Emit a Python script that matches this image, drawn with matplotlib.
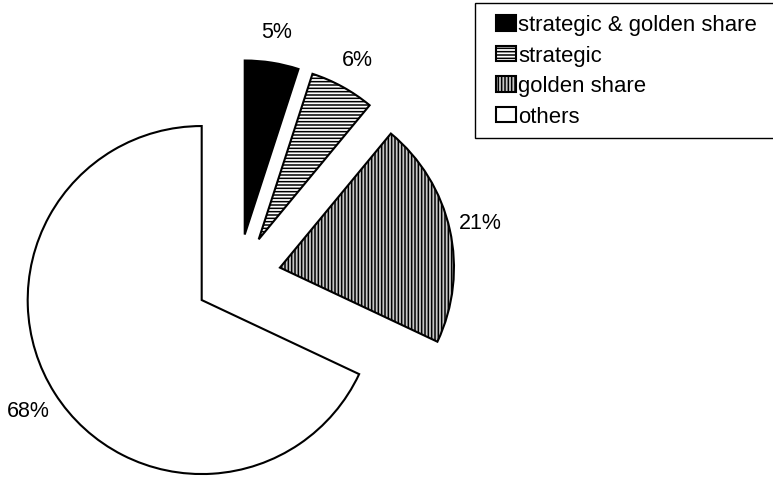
import numpy as np
import matplotlib
matplotlib.use("Agg")
import matplotlib.pyplot as plt
import matplotlib.patches as mpatches
from matplotlib.legend_handler import HandlerPatch

plt.rcParams['font.family'] = ['Liberation Sans', 'DejaVu Sans']
plt.rcParams['hatch.linewidth'] = 1.1

# share of companies by type of special right
categories = ['strategic & golden share', 'strategic', 'golden share', 'others']
shares = [5, 6, 21, 68]
fills = ['black', 'white', '#c8c8c8', 'white']
hatches = [None, '-----', '|||||', None]

W, H = 773, 481
fig = plt.figure(figsize=(W / 100, H / 100), dpi=100)
ax = fig.add_axes([0, 0, 1, 1])

# explode offsets are in data units here (axes span the figure in pixels)
wedges, texts, pcts = ax.pie(
    shares, colors=fills, startangle=90, counterclock=False,
    explode=[43] * 4, radius=174, center=(238, H - 278),
    autopct='%1.0f%%', pctdistance=1.18,
    wedgeprops=dict(edgecolor='black', linewidth=1.5),
    textprops=dict(fontsize=15.5, color='black'))
for w, h in zip(wedges, hatches):
    if h:
        w.set_hatch(h)

ax.set_xlim(0, W)
ax.set_ylim(0, H)
ax.set_aspect('equal')
ax.axis('off')


# small square key pushed to the right end of a wider handle box
def square_key(legend, orig_handle, xdescent, ydescent, width, height, fontsize):
    side = 0.92 * fontsize
    return mpatches.Rectangle((-xdescent + width - side, -ydescent - 0.05 * fontsize),
                              side, height * 1.05)


leg = fig.legend(wedges, categories, loc='upper left',
                 bbox_to_anchor=(475 / W, 1 - 4 / H, 320 / W, 0.0),
                 mode='expand', borderaxespad=0, fontsize=15.9,
                 handlelength=1.35, handleheight=0.68, handletextpad=0.1,
                 labelspacing=0.43, borderpad=0.5, frameon=True,
                 fancybox=False, framealpha=1,
                 handler_map={mpatches.Wedge: HandlerPatch(patch_func=square_key)})
leg.get_frame().set_edgecolor('black')
leg.get_frame().set_linewidth(1.0)

fig.savefig('out.png', dpi=100)
